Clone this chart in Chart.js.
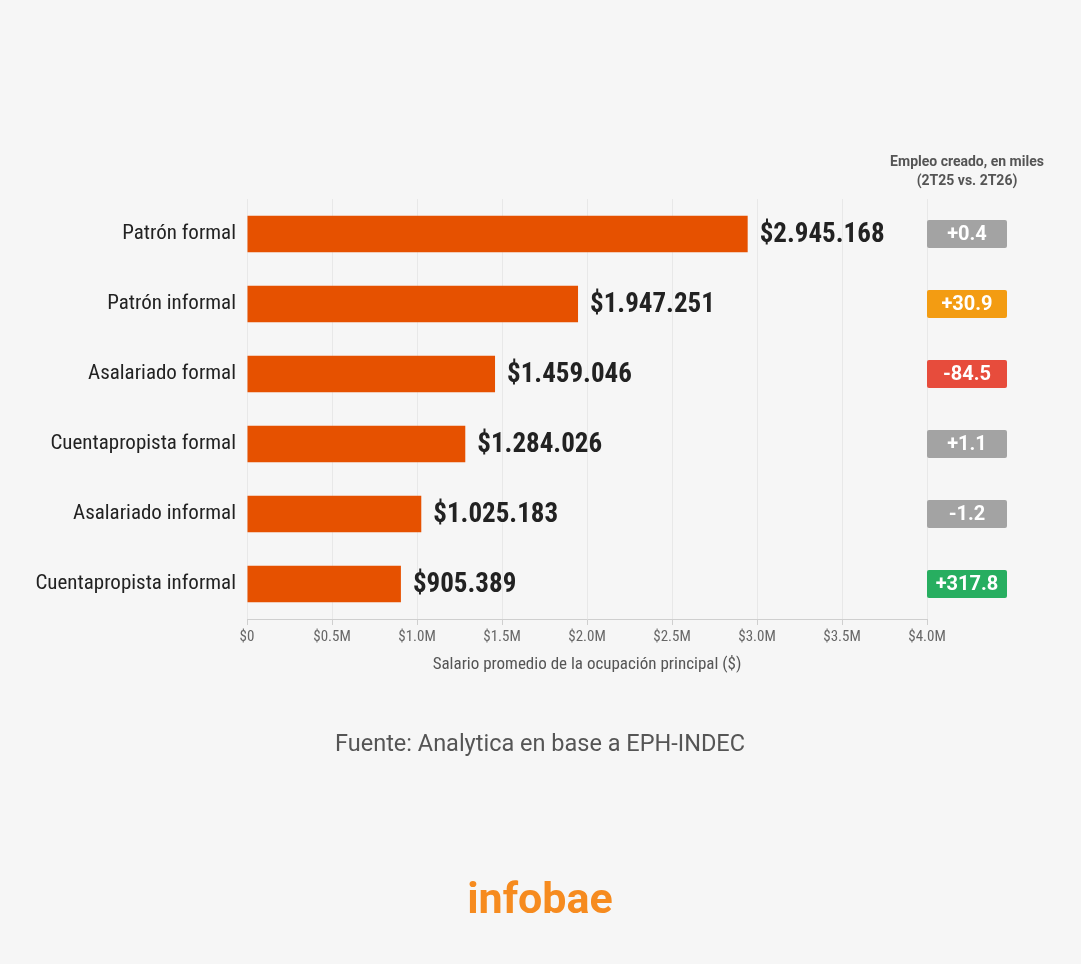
<!DOCTYPE html>
<html>
<head>
<meta charset="utf-8">
<script src="https://cdn.jsdelivr.net/npm/chart.js@4"></script>
<style>
    html, body { margin: 0; padding: 0; background: #f6f6f6; }
    .chart-box { width: 1081px; height: 964px; }
</style>
</head>
<body>
<div class="chart-box">
    <canvas id="myChart" width="1081" height="964"></canvas>
</div>
<script>
    // datos
    const categorias = ['Patrón formal', 'Patrón informal', 'Asalariado formal', 'Cuentapropista formal', 'Asalariado informal', 'Cuentapropista informal'];
    const salarios = [2945168, 1947251, 1459046, 1284026, 1025183, 905389];
    const salarioTexto = ['$2.945.168', '$1.947.251', '$1.459.046', '$1.284.026', '$1.025.183', '$905.389'];
    const empleo = ['+0.4', '+30.9', '-84.5', '+1.1', '-1.2', '+317.8'];
    const empleoColor = ['#a3a3a3', '#f39c12', '#e74c3c', '#a3a3a3', '#a3a3a3', '#27ae60'];

    const COND = "'Roboto Condensed', Roboto, sans-serif";
    const ROBOTO = "Roboto, sans-serif";

    // etiquetas, badges y textos extra
    const extras = {
        id: 'extras',
        afterDatasetsDraw(chart) {
            const ctx = chart.ctx;
            const meta = chart.getDatasetMeta(0);
            const area = chart.chartArea;
            ctx.save();
            ctx.textBaseline = 'middle';
            meta.data.forEach((bar, i) => {
                ctx.fillStyle = '#222';
                ctx.textAlign = 'left';
                ctx.font = "bold 27px " + COND;
                ctx.fillText(salarioTexto[i], bar.x + 12, bar.y + 1);

                const bx = area.right, bw = 80, bh = 28;
                ctx.fillStyle = empleoColor[i];
                ctx.beginPath();
                ctx.roundRect(bx, bar.y - bh / 2, bw, bh, 2);
                ctx.fill();
                ctx.fillStyle = '#fff';
                ctx.textAlign = 'center';
                ctx.font = "bold 20px " + ROBOTO;
                ctx.fillText(empleo[i], bx + bw / 2, bar.y + 1);
            });

            ctx.fillStyle = '#555';
            ctx.textAlign = 'center';
            ctx.font = "bold 14px " + ROBOTO;
            ctx.fillText('Empleo creado, en miles', area.right + 40, 162);
            ctx.fillText('(2T25 vs. 2T26)', area.right + 40, 181);

            ctx.font = "23.5px " + ROBOTO;
            ctx.fillStyle = '#555';
            ctx.fillText('Fuente: Analytica en base a EPH-INDEC', 540, 745);

            ctx.font = "bold 43px " + ROBOTO;
            ctx.fillStyle = '#f68b1f';
            ctx.fillText('infobae', 540, 902);
            ctx.restore();
        }
    };

    new Chart(document.getElementById('myChart'), {
        type: 'bar',
        data: {
            labels: categorias,
            datasets: [{
                data: salarios,
                backgroundColor: '#e65100',
                barPercentage: 0.52,
                categoryPercentage: 1.0
            }]
        },
        options: {
            indexAxis: 'y',
            responsive: false,
            animation: false,
            layout: { padding: { top: 199, right: 154, bottom: 285, left: 0 } },
            plugins: { legend: { display: false }, tooltip: { enabled: false } },
            scales: {
                x: {
                    min: 0,
                    max: 4000000,
                    ticks: {
                        stepSize: 500000,
                        color: '#666',
                        font: { family: COND, size: 15 },
                        padding: 3,
                        callback: v => v === 0 ? '$0' : '$' + (v / 1000000).toFixed(1) + 'M'
                    },
                    grid: { color: '#e8e8e8', tickLength: 6, tickColor: '#cfcfcf' },
                    border: { color: '#cfcfcf' },
                    title: {
                        display: true,
                        text: 'Salario promedio de la ocupación principal ($)',
                        color: '#555',
                        font: { family: COND, size: 17 },
                        padding: { top: 2 }
                    },
                    afterFit(scale) { scale.height = 60; }
                },
                y: {
                    grid: { display: false },
                    border: { display: false },
                    ticks: {
                        color: '#222',
                        font: { family: COND, size: 21 },
                        padding: 3
                    },
                    afterFit(scale) { scale.width = 247; }
                }
            }
        },
        plugins: [extras]
    });
</script>
</body>
</html>
